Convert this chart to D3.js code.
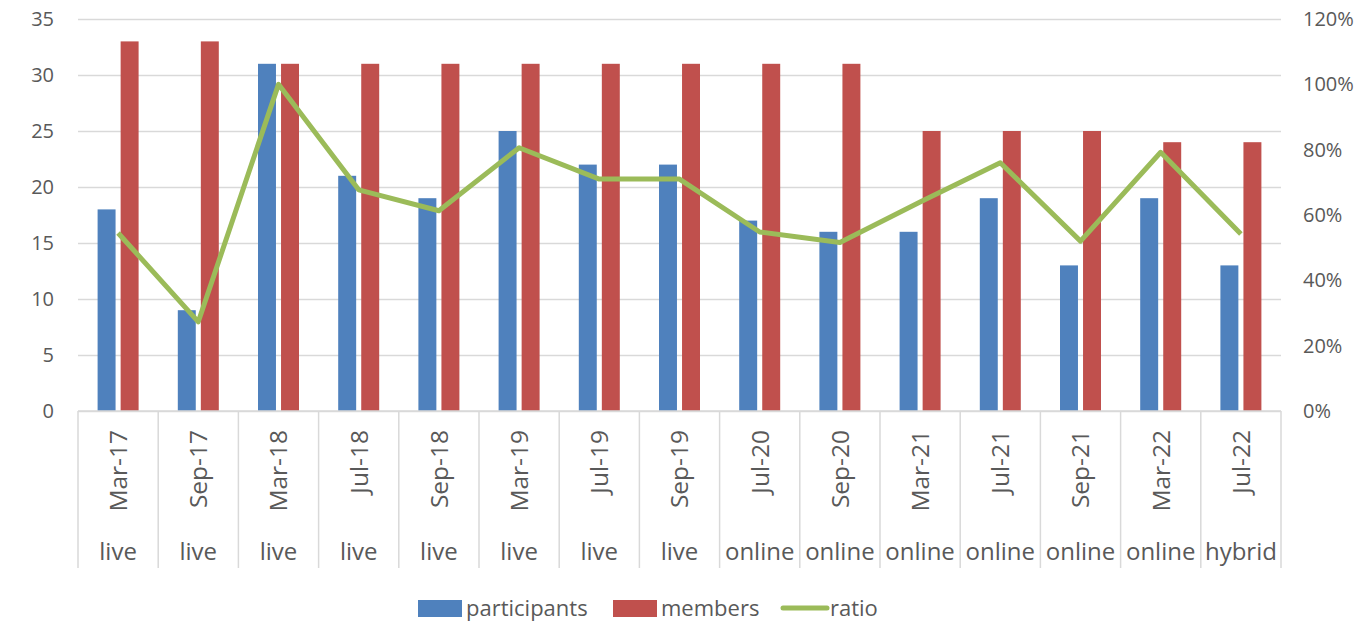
<!DOCTYPE html>
<html>
<head>
<meta charset="utf-8">
<script src="https://cdn.jsdelivr.net/npm/d3@7"></script>
<style>
  html, body { margin: 0; padding: 0; background: #fff; }
  svg { display: block; }
  svg text { font-family: "Open Sans", sans-serif; fill: #595959; }
</style>
</head>
<body>
<div id="chart"></div>
<script>
// data
var dates = ["Mar-17", "Sep-17", "Mar-18", "Jul-18", "Sep-18", "Mar-19", "Jul-19", "Sep-19",
             "Jul-20", "Sep-20", "Mar-21", "Jul-21", "Sep-21", "Mar-22", "Jul-22"];
var formats = ["live", "live", "live", "live", "live", "live", "live", "live",
               "online", "online", "online", "online", "online", "online", "hybrid"];
var participants = [18, 9, 31, 21, 19, 25, 22, 22, 17, 16, 16, 19, 13, 19, 13];
var members = [33, 33, 31, 31, 31, 31, 31, 31, 31, 31, 25, 25, 25, 24, 24];
var ratio = [0.545, 0.273, 1.0, 0.677, 0.613, 0.806, 0.71, 0.71, 0.548, 0.516, 0.64, 0.76, 0.52, 0.792, 0.542];
var leftTicks = [0, 5, 10, 15, 20, 25, 30, 35];
var rightTicks = [0, 0.2, 0.4, 0.6, 0.8, 1.0, 1.2];

var width = 1372, height = 625,
    margin = { top: 19, left: 78, right: 91, bottom: 214 },
    colours = { participants: "#4F81BD", members: "#C0504D", ratio: "#9BBB59" },
    grid = "#d9d9d9";

var innerWidth = width - margin.left - margin.right,
    innerHeight = height - margin.top - margin.bottom;

var svg = d3.select("#chart").append("svg")
    .attr("width", width)
    .attr("height", height);

var g = svg.append("g")
    .attr("transform", "translate(" + margin.left + "," + margin.top + ")");

var x0 = d3.scaleBand().domain(dates).range([0, innerWidth]).padding(0);
var bw = x0.bandwidth();
var x1 = d3.scaleBand().domain(["participants", "members"])
    .range([bw / 2 - 20.5, bw / 2 + 20.5]).paddingInner(0.22);
var yL = d3.scaleLinear().domain([0, 35]).range([innerHeight, 0]);
var yR = d3.scaleLinear().domain([0, 1.2]).range([innerHeight, 0]);

// gridlines
g.append("g")
    .call(d3.axisLeft(yL).tickValues(leftTicks).tickSize(-innerWidth).tickFormat(""))
    .call(function(a){ a.select(".domain").remove(); })
    .selectAll("line").attr("stroke", grid).attr("stroke-width", 1.5);

// left axis labels
g.append("g")
    .call(d3.axisLeft(yL).tickValues(leftTicks).tickSize(0).tickPadding(24))
    .call(function(a){ a.select(".domain").remove(); })
    .selectAll("text")
      .style("font-size", "20px");

// right axis labels
g.append("g")
    .attr("transform", "translate(" + innerWidth + ",0)")
    .call(d3.axisRight(yR).tickValues(rightTicks).tickSize(0).tickPadding(22).tickFormat(d3.format(".0%")))
    .call(function(a){ a.select(".domain").remove(); })
    .selectAll("text")
      .style("font-size", "20px");

// bars
var groups = g.selectAll(".grp")
    .data(dates)
    .enter().append("g")
      .attr("class", "grp")
      .attr("transform", function(d){ return "translate(" + x0(d) + ",0)"; });

groups.append("rect")
    .attr("x", x1("participants"))
    .attr("width", x1.bandwidth())
    .attr("y", function(d, i){ return yL(participants[i]); })
    .attr("height", function(d, i){ return innerHeight - yL(participants[i]); })
    .attr("fill", colours.participants);

groups.append("rect")
    .attr("x", x1("members"))
    .attr("width", x1.bandwidth())
    .attr("y", function(d, i){ return yL(members[i]); })
    .attr("height", function(d, i){ return innerHeight - yL(members[i]); })
    .attr("fill", colours.members);

// ratio line
var line = d3.line()
    .x(function(d, i){ return x0(dates[i]) + bw / 2; })
    .y(function(d){ return yR(d); });

g.append("path")
    .datum(ratio)
    .attr("fill", "none")
    .attr("stroke", colours.ratio)
    .attr("stroke-width", 5)
    .attr("stroke-linejoin", "round")
    .attr("d", line);

// category axis (two levels)
var axisBottom = 157;
g.append("line")
    .attr("x1", 0).attr("x2", innerWidth)
    .attr("y1", innerHeight).attr("y2", innerHeight)
    .attr("stroke", grid).attr("stroke-width", 1.5);

var bounds = dates.map(function(d){ return x0(d); }).concat([innerWidth]);
g.selectAll(".sep")
    .data(bounds)
    .enter().append("line")
      .attr("class", "sep")
      .attr("x1", function(d){ return d; })
      .attr("x2", function(d){ return d; })
      .attr("y1", innerHeight)
      .attr("y2", innerHeight + axisBottom)
      .attr("stroke", grid)
      .attr("stroke-width", 1.5);

g.selectAll(".date")
    .data(dates)
    .enter().append("text")
      .attr("class", "date")
      .attr("transform", function(d){ return "translate(" + (x0(d) + bw / 2) + "," + (innerHeight + 19) + ") rotate(-90)"; })
      .attr("dy", "0.36em")
      .style("text-anchor", "end")
      .style("font-size", "24.5px")
      .text(function(d){ return d; });

g.selectAll(".fmt")
    .data(formats)
    .enter().append("text")
      .attr("class", "fmt")
      .attr("x", function(d, i){ return x0(dates[i]) + bw / 2; })
      .attr("y", innerHeight + 149)
      .style("text-anchor", "middle")
      .style("font-size", "24px")
      .text(function(d){ return d; });

// legend
var legendItems = [
  { key: "participants", x: 418, type: "rect" },
  { key: "members", x: 613, type: "rect" },
  { key: "ratio", x: 782, type: "line" }
];
var legend = svg.append("g");
legendItems.forEach(function(it){
  if (it.type == "rect") {
    legend.append("rect")
      .attr("x", it.x).attr("y", 600)
      .attr("width", 44).attr("height", 17)
      .attr("fill", colours[it.key]);
  } else {
    legend.append("line")
      .attr("x1", it.x + 1).attr("x2", it.x + 45)
      .attr("y1", 608).attr("y2", 608)
      .attr("stroke", colours[it.key])
      .attr("stroke-width", 5)
      .attr("stroke-linecap", "round");
  }
  legend.append("text")
    .attr("x", it.x + 48)
    .attr("y", 608)
    .attr("dy", "0.35em")
    .style("font-size", "22px")
    .text(it.key);
});
</script>
</body>
</html>
